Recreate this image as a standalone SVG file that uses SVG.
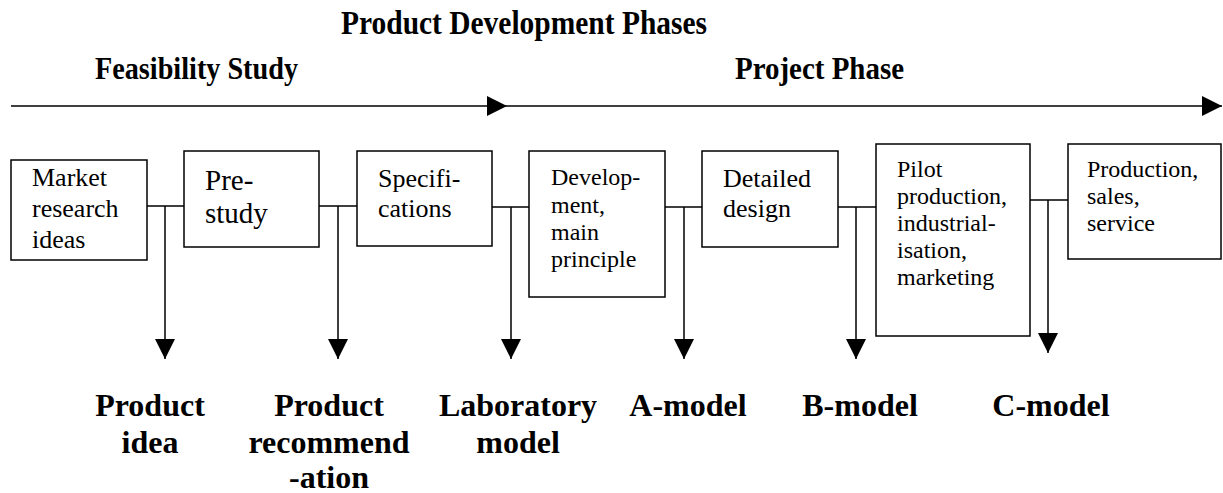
<svg xmlns="http://www.w3.org/2000/svg" width="1223" height="493" viewBox="0 0 1223 493">
  <style>
    .box { fill: #fff; stroke: #000; stroke-width: 1.5; }
    .t { font-family: "Liberation Serif", "Times New Roman", serif; fill: #000; }
    .head { font-family: "Liberation Serif", "Times New Roman", serif; font-weight: bold; fill: #000; }
    .lbl { font-family: "Liberation Serif", "Times New Roman", serif; font-weight: bold; font-size: 32px; fill: #000; text-anchor: middle; }
    .ln { fill: none; stroke: #000; stroke-width: 1.5; }
  </style>
  <defs>
    <marker id="head" viewBox="0 0 20 20" refX="20" refY="10" markerWidth="20" markerHeight="20" markerUnits="userSpaceOnUse" orient="auto">
      <path d="M0,0 L20,10 L0,20 Z" fill="#000"/>
    </marker>
  </defs>

  <!-- headings (narrow set) -->
  <g id="headings">
    <text class="head" x="341" y="34" font-size="33" textLength="366" lengthAdjust="spacingAndGlyphs">Product Development Phases</text>
    <text class="head" x="95" y="79" font-size="31" textLength="203" lengthAdjust="spacingAndGlyphs">Feasibility Study</text>
    <text class="head" x="735" y="79" font-size="31" textLength="169" lengthAdjust="spacingAndGlyphs">Project Phase</text>
  </g>

  <!-- phase timeline and milestone drops -->
  <g id="connectors">
    <line class="ln" x1="11" y1="106" x2="507" y2="106" marker-end="url(#head)"/>
    <line class="ln" x1="507" y1="106" x2="1222" y2="106" marker-end="url(#head)"/>

    <path class="ln" d="M147,206 H184 M165,206 V359" marker-end="url(#head)"/>
    <path class="ln" d="M319,206 H357 M338,206 V359" marker-end="url(#head)"/>
    <path class="ln" d="M492,207 H529 M511,207 V359" marker-end="url(#head)"/>
    <path class="ln" d="M665,207 H702 M684,207 V359" marker-end="url(#head)"/>
    <path class="ln" d="M838,207 H876 M856,207 V359" marker-end="url(#head)"/>
    <path class="ln" d="M1030,200 H1068 M1048,200 V353" marker-end="url(#head)"/>
  </g>

  <g id="market">
    <rect class="box" x="11" y="160" width="136" height="100"/>
    <text class="t" font-size="26"><tspan x="32" y="186">Market</tspan><tspan x="32" y="217">research</tspan><tspan x="32" y="248">ideas</tspan></text>
  </g>

  <g id="prestudy">
    <rect class="box" x="184" y="151" width="135" height="96"/>
    <text class="t" font-size="29"><tspan x="205" y="190">Pre-</tspan><tspan x="205" y="223">study</tspan></text>
  </g>

  <g id="specifications">
    <rect class="box" x="357" y="151" width="135" height="95"/>
    <text class="t" font-size="26"><tspan x="378" y="187">Specifi-</tspan><tspan x="378" y="217">cations</tspan></text>
  </g>

  <g id="development">
    <rect class="box" x="529" y="151" width="136" height="146"/>
    <text class="t" font-size="24"><tspan x="551" y="185">Develop-</tspan><tspan x="551" y="213">ment,</tspan><tspan x="551" y="240">main</tspan><tspan x="551" y="267">principle</tspan></text>
  </g>

  <g id="detailed">
    <rect class="box" x="702" y="151" width="136" height="96"/>
    <text class="t" font-size="26"><tspan x="723" y="187">Detailed</tspan><tspan x="723" y="217">design</tspan></text>
  </g>

  <g id="pilot">
    <rect class="box" x="876" y="144" width="154" height="192"/>
    <text class="t" font-size="24"><tspan x="897" y="177">Pilot</tspan><tspan x="897" y="204">production,</tspan><tspan x="897" y="231">industrial-</tspan><tspan x="897" y="258">isation,</tspan><tspan x="897" y="285">marketing</tspan></text>
  </g>

  <g id="production">
    <rect class="box" x="1068" y="144" width="153" height="115"/>
    <text class="t" font-size="24"><tspan x="1087" y="177">Production,</tspan><tspan x="1087" y="204">sales,</tspan><tspan x="1087" y="231">service</tspan></text>
  </g>

  <!-- milestone outcomes -->
  <g id="milestones">
    <text class="lbl"><tspan x="150" y="416">Product</tspan><tspan x="150" y="453">idea</tspan></text>
    <text class="lbl"><tspan x="329" y="416">Product</tspan><tspan x="329" y="453">recommend</tspan><tspan x="329" y="488">-ation</tspan></text>
    <text class="lbl"><tspan x="518" y="416">Laboratory</tspan><tspan x="518" y="453">model</tspan></text>
    <text class="lbl" x="688" y="416">A-model</text>
    <text class="lbl" x="860" y="416">B-model</text>
    <text class="lbl" x="1051" y="416">C-model</text>
  </g>
</svg>
